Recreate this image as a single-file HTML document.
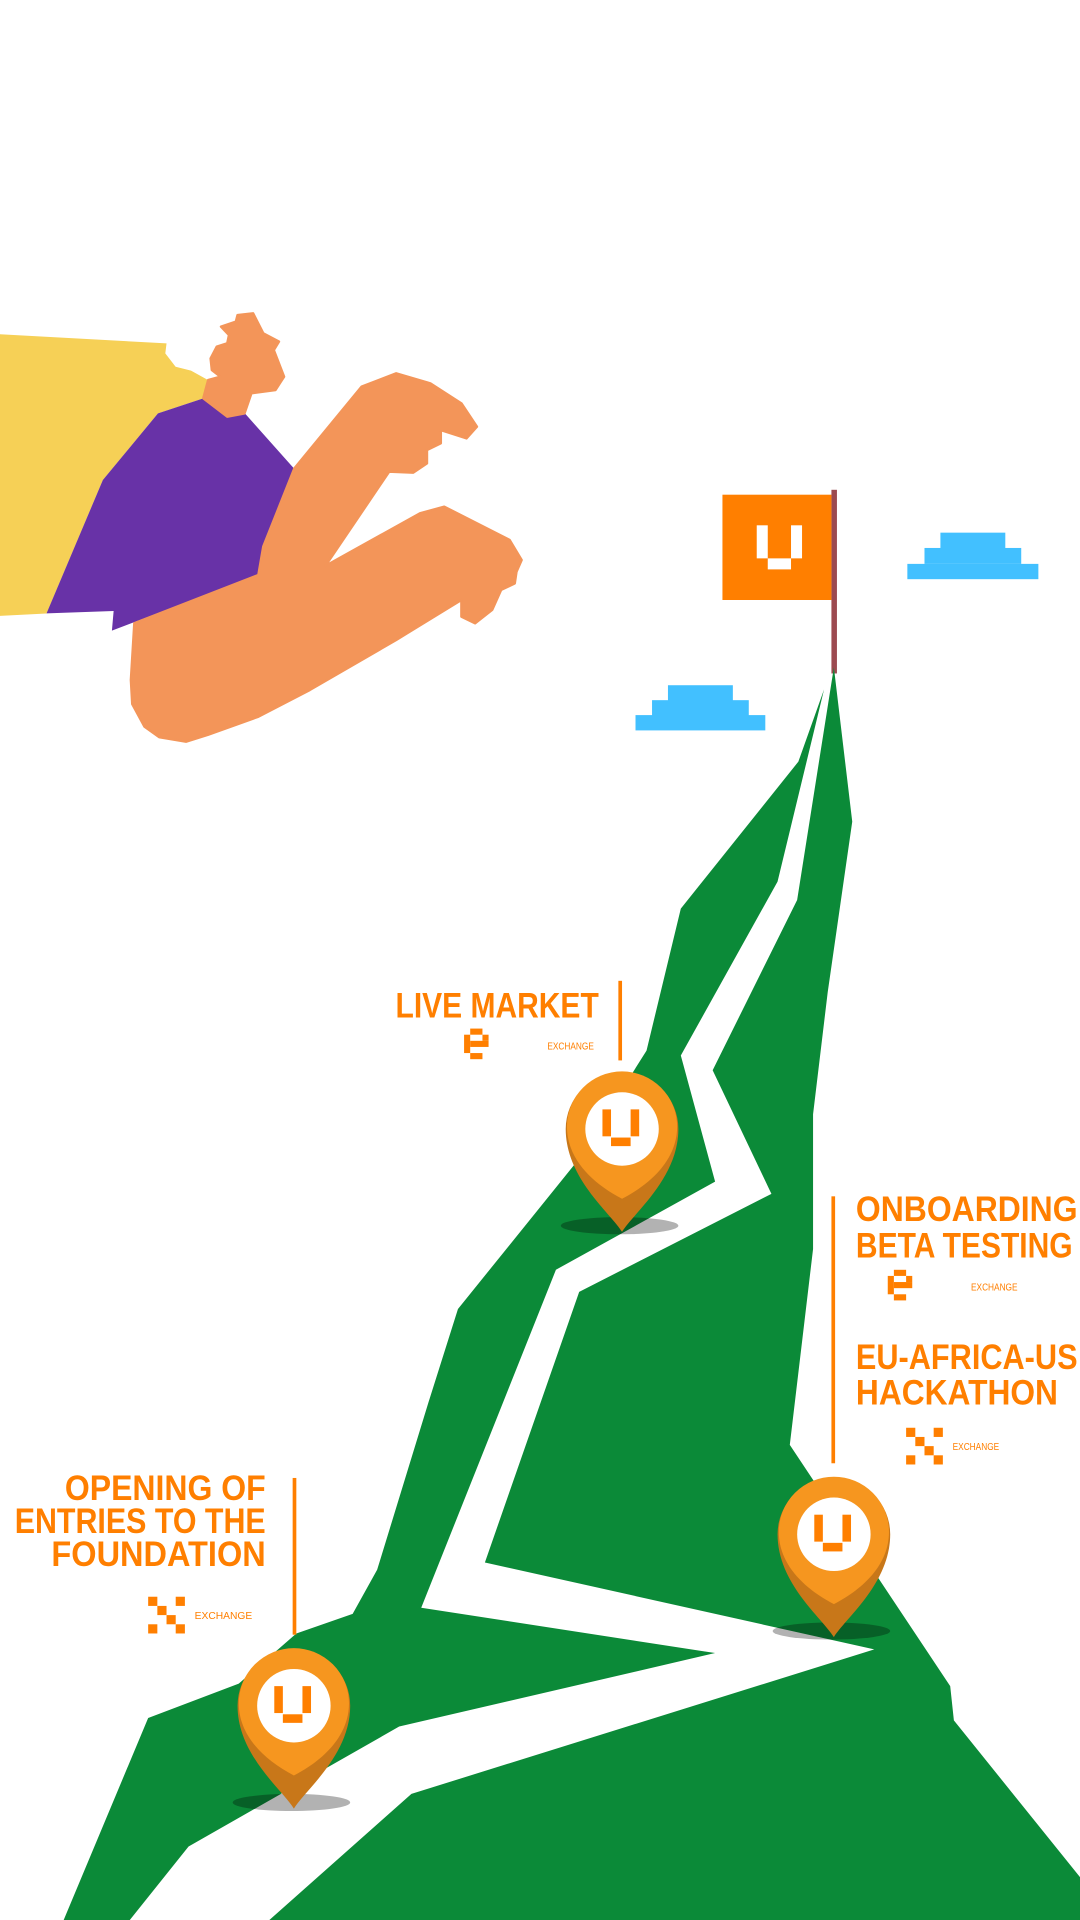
<!DOCTYPE html>
<html><head><meta charset="utf-8"><style>
html,body{margin:0;padding:0;background:#fff;}
svg{display:block;}
text{font-family:"Liberation Sans",sans-serif;}
</style></head><body>
<svg width="1080" height="1920" viewBox="0 0 882 1568" xmlns="http://www.w3.org/2000/svg">
<rect width="882" height="1568" fill="#fff"/>
<!-- clouds -->
<g fill="#42c0ff">
<rect x="768" y="435" width="53" height="13"/><rect x="755" y="447.5" width="79" height="13"/><rect x="741" y="460.5" width="107" height="12.5"/>
<rect x="545.5" y="559.6" width="53" height="12.5"/><rect x="532.5" y="571.8" width="79" height="12.5"/><rect x="519" y="584" width="106" height="12.5"/>
</g>
<!-- flag -->
<rect x="679" y="400" width="4.5" height="150" fill="#9c4a50"/>
<rect x="590" y="404" width="89" height="86" fill="#ff7f00"/>
<g fill="#fff"><rect x="618" y="429" width="9" height="27"/><rect x="646" y="429" width="9" height="27"/><rect x="627" y="456" width="19" height="9"/></g>
<!-- mountain -->
<g fill="#0b8a38">
<polygon points="52,1568 121,1403 195,1375 242,1334 288,1318 308,1282 350,1145 374,1069 470,950 528,858 556,742 652,622 673,563 635,720 556,862 584,965 454,1037 344,1313 584,1350 326,1410 154,1508 106,1568"/>
<polygon points="681,545 696,671 676,810 664,910 664,1020 645,1180 776,1377 779,1405 882,1533 882,1568 220,1568 336,1465 714,1347 396,1276 473,1055 630,975 582,874 651,735"/>
</g>
<!-- person -->
<polygon fill="#f6d056" points="0,273 136,280.4 135,288.6 143.4,299.5 156,302.7 170,310.4 166,325.3 129,337.6 84,392 38,501 0,503"/>
<polygon fill="#6832a7" points="38,500.9 92.8,499 91.4,515 211,469.6 215,446.4 240,382.5 200,337.6 166,325.3 129,337.6 84,392"/>
<g fill="#f39559" stroke="#f39559" stroke-width="2" stroke-linejoin="round">
<polygon points="170,310.4 180,307.6 173,302.2 172,292.7 177,283.1 185.6,280.4 187,273.6 180.5,266.8 192.6,262.7 194,257.3 206.7,255.9 215,272.2 227.8,279 223.6,285.9 232,307.6 225,318.5 205.3,321.2 199.7,337.6 185.6,340.3 166,325.3"/>
<polygon points="240.4,382.5 295.3,315.8 323.4,304.9 351.5,313.1 376.8,329.4 389.5,348.5 381,358 360,351.2 360,362 348.7,367.5 348.7,378.4 337.5,386 317.8,385.2 265.7,462.2 343,419.2 362.8,413.8 416.2,441 426,457.3 421.8,466.9 420.4,476.4 409.2,481.8 402,498 388,509 376.8,503.6 376.8,490 323.4,522.7 253,563.5 211,585.3 170,600 151.9,605.7 130,602 118,593.4 108,575 106.9,555.3 109.7,509 211,469.6 215,446.4"/>
</g>
<!-- pins -->
<defs>
<g id="pin">
<ellipse cx="-2" cy="79" rx="48" ry="7" fill="#000" opacity="0.3"/>
<path d="M-46,0 C-46,40 -10,68 0,84 C10,68 46,40 46,0 A46,46 0 0 0 -46,0 Z" fill="#c87719"/>
<path d="M-45,-2 A45,45 0 0 1 45,-2 C45,24 25,44 0,57 C-25,44 -45,24 -45,-2 Z" fill="#f6961f"/>
<circle cx="0" cy="0" r="30" fill="#fff"/>
<g fill="#ff7f00"><rect x="-16" y="-16" width="7" height="22"/><rect x="7" y="-16" width="7" height="22"/><rect x="-9" y="7" width="16" height="7"/></g>
</g>
<g id="elogo" fill="#ff7f00"><rect x="5" y="0" width="10" height="5"/><rect x="0" y="5" width="5" height="15"/><rect x="15" y="5" width="5" height="5"/><rect x="5" y="10" width="15" height="5"/><rect x="5" y="20" width="10" height="5"/></g>
<g id="xlogo" fill="#ff7f00"><rect x="0" y="0" width="7.5" height="7.5"/><rect x="22.5" y="0" width="7.5" height="7.5"/><rect x="7.5" y="7.5" width="7.5" height="7.5"/><rect x="15" y="15" width="7.5" height="7.5"/><rect x="0" y="22.5" width="7.5" height="7.5"/><rect x="22.5" y="22.5" width="7.5" height="7.5"/></g>
</defs>
<use href="#pin" x="508" y="922"/>
<use href="#pin" x="681" y="1253"/>
<use href="#pin" x="240" y="1393"/>
<!-- labels -->
<g fill="#ff7f00" font-weight="bold" font-size="29">
<text x="323" y="831" textLength="166" lengthAdjust="spacingAndGlyphs">LIVE MARKET</text>
<text x="699" y="997" textLength="181" lengthAdjust="spacingAndGlyphs">ONBOARDING</text>
<text x="699" y="1027" textLength="177" lengthAdjust="spacingAndGlyphs">BETA TESTING</text>
<text x="699" y="1118" textLength="181" lengthAdjust="spacingAndGlyphs">EU-AFRICA-US</text>
<text x="699" y="1147" textLength="165" lengthAdjust="spacingAndGlyphs">HACKATHON</text>
<text x="53" y="1225" textLength="164" lengthAdjust="spacingAndGlyphs">OPENING OF</text>
<text x="12" y="1252" textLength="205" lengthAdjust="spacingAndGlyphs">ENTRIES TO THE</text>
<text x="42" y="1279" textLength="175" lengthAdjust="spacingAndGlyphs">FOUNDATION</text>
</g>
<g fill="#ff7f00" font-size="8">
<text x="447" y="857" textLength="38" lengthAdjust="spacingAndGlyphs">EXCHANGE</text>
<text x="793" y="1054" textLength="38" lengthAdjust="spacingAndGlyphs">EXCHANGE</text>
<text x="778" y="1184" textLength="38" lengthAdjust="spacingAndGlyphs">EXCHANGE</text>
<text x="159" y="1322" textLength="47" lengthAdjust="spacingAndGlyphs">EXCHANGE</text>
</g>
<g fill="#ff7f00">
<rect x="505" y="801" width="3" height="65"/>
<rect x="679" y="977" width="3" height="218"/>
<rect x="239" y="1207" width="3" height="128"/>
</g>
<use href="#elogo" x="379" y="840"/>
<use href="#elogo" x="725" y="1037"/>
<use href="#xlogo" x="740" y="1166"/>
<use href="#xlogo" x="121" y="1304"/>
</svg>
</body></html>
